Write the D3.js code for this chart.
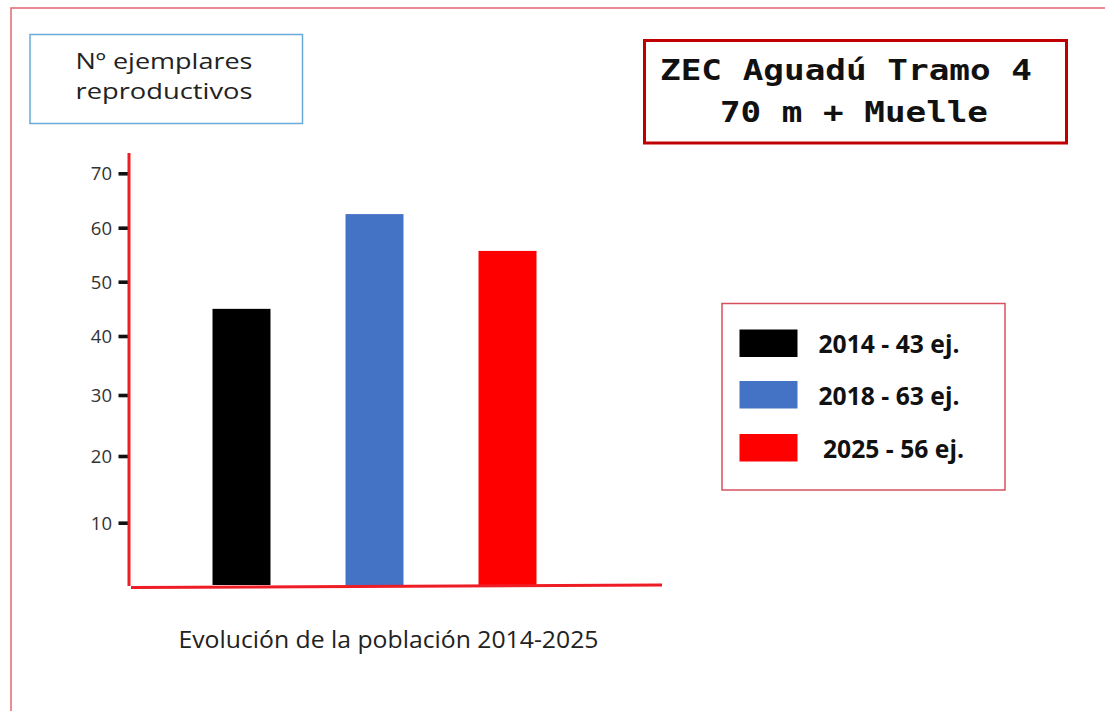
<!DOCTYPE html>
<html>
<head>
<meta charset="utf-8">
<script src="https://cdn.jsdelivr.net/npm/d3@7"></script>
<style>
  html, body { margin: 0; padding: 0; background: #ffffff; }
  svg { display: block; }
</style>
</head>
<body>
<svg id="chart" width="1105" height="711"></svg>
<script>
// ---- data ----
const years = ["2014", "2018", "2025"];
const barValues = [45, 62.5, 55.7];          // bar heights as drawn
const counts = [43, 63, 56];                  // counts stated in legend
const colors = ["#000000", "#4472c4", "#ff0000"];
const yTicks = [10, 20, 30, 40, 50, 60, 70];
const titleLines = ["ZEC Aguadú Tramo 4", "70 m + Muelle"];
const yLabelLines = ["Nº ejemplares", "reproductivos"];
const caption = "Evolución de la población 2014-2025";

const svg = d3.select("#chart");

// outer frame
svg.append("rect").attr("x", 11).attr("y", 8).attr("width", 1300).attr("height", 900)
  .attr("fill", "#ffffff").attr("stroke", "#e4707c").attr("stroke-width", 1.6);

// scales (hand-drawn axis: uneven tick spacing)
const y = d3.scaleLinear()
  .domain([0, 10, 20, 30, 40, 50, 60, 70])
  .range([585, 522.7, 456, 395, 336, 281.7, 227.7, 173.3]);
const x = d3.scaleBand().domain(years).range([146, 603])
  .paddingInner(0.564).paddingOuter(0.5);

// bars
svg.append("g").selectAll("rect").data(years).join("rect")
  .attr("x", d => x(d))
  .attr("width", x.bandwidth())
  .attr("y", (d, i) => y(barValues[i]))
  .attr("height", (d, i) => y(0) - y(barValues[i]))
  .attr("fill", (d, i) => colors[i]);

// y axis
const yAxis = d3.axisLeft(y).tickValues(yTicks).tickSize(0).tickPadding(17);
const gy = svg.append("g").attr("transform", "translate(129,0)").call(yAxis);
gy.select(".domain").remove();
gy.selectAll(".tick").append("rect")
  .attr("x", -10.5).attr("y", -1.8).attr("width", 10.5).attr("height", 3.6).attr("fill", "#111");
gy.selectAll(".tick text").attr("fill", "#333").attr("font-family", "'Open Sans', sans-serif")
  .attr("font-size", 18.5).attr("dy", "0.36em");
svg.append("line").attr("x1", 129).attr("x2", 129).attr("y1", 153).attr("y2", 586)
  .attr("stroke", "#ee1c24").attr("stroke-width", 3);
// x axis line
svg.append("line").attr("x1", 131).attr("x2", 662).attr("y1", 587.5).attr("y2", 585)
  .attr("stroke", "#ee1c24").attr("stroke-width", 3);

// y label box
svg.append("rect").attr("x", 30).attr("y", 34.5).attr("width", 272.5).attr("height", 89)
  .attr("fill", "none").attr("stroke", "#6aaad6").attr("stroke-width", 1.5);
svg.append("g").selectAll("text").data(yLabelLines).join("text")
  .attr("x", 164).attr("y", (d, i) => 68.5 + i * 30.5)
  .attr("text-anchor", "middle")
  .attr("font-family", "'Open Sans', sans-serif").attr("font-size", 22)
  .attr("fill", "#222")
  .attr("textLength", 177).attr("lengthAdjust", "spacingAndGlyphs")
  .text(d => d);

// title box
svg.append("rect").attr("x", 644.5).attr("y", 40.5).attr("width", 422).attr("height", 102.5)
  .attr("fill", "none").attr("stroke", "#c00000").attr("stroke-width", 3);
svg.append("g").selectAll("text").data(titleLines).join("text")
  .attr("x", (d, i) => i === 0 ? 660 : 720)
  .attr("y", (d, i) => i === 0 ? 80 : 121.5)
  .attr("font-family", "'DejaVu Sans Mono', monospace")
  .attr("font-weight", "bold").attr("font-size", 29)
  .attr("fill", "#111")
  .attr("textLength", (d, i) => i === 0 ? 372 : 268).attr("lengthAdjust", "spacingAndGlyphs")
  .text(d => d);

// legend
svg.append("rect").attr("x", 722).attr("y", 303.5).attr("width", 283).attr("height", 186.5)
  .attr("fill", "none").attr("stroke", "#d8505e").attr("stroke-width", 1.5);
const legY = [329.5, 381, 434];
const leg = svg.append("g").selectAll("g").data(years).join("g");
leg.append("rect").attr("x", 739.5).attr("width", 58).attr("height", 27.5)
  .attr("y", (d, i) => legY[i]).attr("fill", (d, i) => colors[i]);
leg.append("text")
  .attr("x", (d, i) => i === 2 ? 823 : 818.5)
  .attr("y", (d, i) => legY[i] + 23.5)
  .attr("font-family", "'Open Sans', sans-serif").attr("font-weight", "bold")
  .attr("font-size", 25.5).attr("fill", "#111")
  .attr("textLength", 141).attr("lengthAdjust", "spacingAndGlyphs")
  .text((d, i) => `${d} - ${counts[i]} ej.`);

// caption
svg.append("text").attr("x", 178.5).attr("y", 647.5)
  .attr("font-family", "'Open Sans', sans-serif").attr("font-size", 23.5)
  .attr("fill", "#222")
  .attr("textLength", 420).attr("lengthAdjust", "spacingAndGlyphs")
  .text(caption);
</script>
</body>
</html>
